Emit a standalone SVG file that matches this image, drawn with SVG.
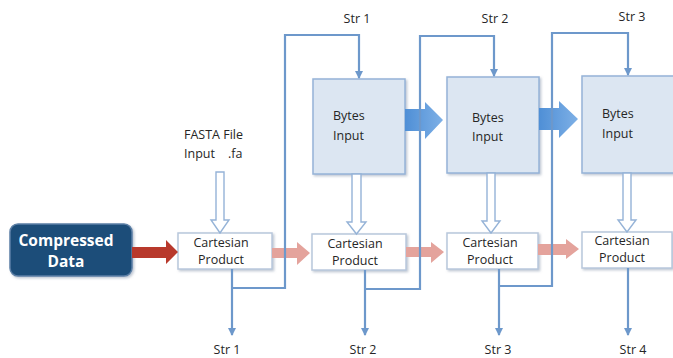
<svg xmlns="http://www.w3.org/2000/svg" width="673" height="358" viewBox="0 0 673 358">
  <style>
    .lbl { font-family: "Open Sans", "Liberation Sans", sans-serif; font-size: 12.5px; fill: #262626; }
    .bytes { fill: #dce6f2; stroke: #95b3d7; stroke-width: 1.5; }
    .cart { fill: #ffffff; stroke: #b8c7dc; stroke-width: 1.5; }
    .wire { fill: none; stroke: #6d98cb; stroke-width: 2.2; }
    .hollow { fill: #ffffff; stroke: #95b3d7; stroke-width: 1.4; }
    .pink { fill: #e4a39c; }
    .blue { fill: url(#blueGrad); }
  </style>
  <defs>
    <linearGradient id="blueGrad" x1="0" y1="0" x2="1" y2="0">
      <stop offset="0" stop-color="#4f8fd6"/>
      <stop offset="1" stop-color="#7eb0e6"/>
    </linearGradient>
    <filter id="shadow" x="-10%" y="-10%" width="125%" height="125%">
      <feDropShadow dx="1.5" dy="1.5" stdDeviation="1" flood-color="#7f8fa6" flood-opacity="0.5"/>
    </filter>
    <marker id="tip" markerWidth="8" markerHeight="8" refX="7" refY="4" orient="auto" markerUnits="userSpaceOnUse">
      <path d="M0,0 L8,4 L0,8 Z" fill="#6d98cb"/>
    </marker>
  </defs>

  <!-- source block -->
  <g id="compressed">
    <rect x="10" y="224" width="122" height="52" rx="8" fill="#1f4e79" stroke="#5b7fa6" stroke-width="1.5" filter="url(#shadow)"/>
    <text x="66" y="246" text-anchor="middle" font-family="'Open Sans', 'Liberation Sans', sans-serif" font-size="15.5" font-weight="bold" fill="#ffffff">Compressed</text>
    <text x="66" y="267" text-anchor="middle" font-family="'Open Sans', 'Liberation Sans', sans-serif" font-size="15.5" font-weight="bold" fill="#ffffff">Data</text>
  </g>

  <g id="fasta">
    <text class="lbl" x="184" y="139">FASTA File</text>
    <text class="lbl" x="184" y="158">Input<tspan x="228">.fa</tspan></text>
  </g>

  <!-- byte input stages -->
  <g id="bytes1">
    <rect class="bytes" x="313" y="79" width="92" height="95" filter="url(#shadow)"/>
    <text class="lbl" x="333" y="120">Bytes</text>
    <text class="lbl" x="333" y="140">Input</text>
  </g>
  <g id="bytes2">
    <rect class="bytes" x="447" y="77" width="92" height="96" filter="url(#shadow)"/>
    <text class="lbl" x="472" y="122">Bytes</text>
    <text class="lbl" x="472" y="141">Input</text>
  </g>
  <g id="bytes3">
    <rect class="bytes" x="582" y="76" width="96" height="97" filter="url(#shadow)"/>
    <text class="lbl" x="602" y="118">Bytes</text>
    <text class="lbl" x="602" y="138">Input</text>
  </g>

  <!-- cartesian product stages -->
  <g id="cart1">
    <rect class="cart" x="178" y="233" width="94" height="36" filter="url(#shadow)"/>
    <text class="lbl" x="221" y="247" text-anchor="middle">Cartesian</text>
    <text class="lbl" x="221" y="264" text-anchor="middle">Product</text>
  </g>
  <g id="cart2">
    <rect class="cart" x="312" y="234" width="94" height="36" filter="url(#shadow)"/>
    <text class="lbl" x="355" y="248" text-anchor="middle">Cartesian</text>
    <text class="lbl" x="355" y="265" text-anchor="middle">Product</text>
  </g>
  <g id="cart3">
    <rect class="cart" x="447" y="233" width="91" height="36" filter="url(#shadow)"/>
    <text class="lbl" x="490" y="247" text-anchor="middle">Cartesian</text>
    <text class="lbl" x="490" y="264" text-anchor="middle">Product</text>
  </g>
  <g id="cart4">
    <rect class="cart" x="582" y="232" width="90" height="36" filter="url(#shadow)"/>
    <text class="lbl" x="622" y="245" text-anchor="middle">Cartesian</text>
    <text class="lbl" x="622" y="262" text-anchor="middle">Product</text>
  </g>

  <!-- stream labels -->
  <g id="labels">
    <text class="lbl" x="357" y="23" text-anchor="middle">Str 1</text>
    <text class="lbl" x="495" y="23" text-anchor="middle">Str 2</text>
    <text class="lbl" x="632" y="21" text-anchor="middle">Str 3</text>
    <text class="lbl" x="227" y="354" text-anchor="middle">Str 1</text>
    <text class="lbl" x="363" y="354" text-anchor="middle">Str 2</text>
    <text class="lbl" x="498" y="354" text-anchor="middle">Str 3</text>
    <text class="lbl" x="633" y="354" text-anchor="middle">Str 4</text>
  </g>

  <g id="connectors">
    <!-- compressed data into first product -->
    <path d="M132,247 H166 V240 L178,252 L166,264 V258 H132 Z" fill="#b8392c"/>

    <!-- product to product -->
    <path class="pink" d="M272,248 H297 V242 L310,253 L297,265 V258 H272 Z"/>
    <path class="pink" d="M406,247 H431 V242 L444,252 L431,263 V257 H406 Z"/>
    <path class="pink" d="M538,244 H566 V239 L579,249 L566,259 V255 H538 Z"/>

    <!-- byte input to byte input -->
    <path class="blue" d="M405,109 H425 V102 L443,120 L425,139 V131 H405 Z"/>
    <path class="blue" d="M539,108 H559 V101 L578,119 L559,138 V130 H539 Z"/>

    <!-- hollow arrows feeding the products -->
    <path class="hollow" d="M216,172 H224 V220 H229 L220,233 L211,220 H216 Z"/>
    <path class="hollow" d="M352,174 H361 V222 H366 L356.5,234 L347,222 H352 Z"/>
    <path class="hollow" d="M487,173 H495 V221 H500 L491,233 L482,221 H487 Z"/>
    <path class="hollow" d="M623,173 H631 V220 H636 L627,232 L618,220 H623 Z"/>

    <!-- feedback loops: product output to next byte input -->
    <path class="wire" d="M232,288 H285 V35 H359 V78" marker-end="url(#tip)"/>
    <path class="wire" d="M365,289 H420 V36 H494 V76" marker-end="url(#tip)"/>
    <path class="wire" d="M499,286 H552 V33 H628 V75" marker-end="url(#tip)"/>

    <!-- stream outputs -->
    <path class="wire" d="M232,269 V335" marker-end="url(#tip)"/>
    <path class="wire" d="M365,270 V335" marker-end="url(#tip)"/>
    <path class="wire" d="M499,269 V335" marker-end="url(#tip)"/>
    <path class="wire" d="M628,268 V335" marker-end="url(#tip)"/>
  </g>
</svg>
